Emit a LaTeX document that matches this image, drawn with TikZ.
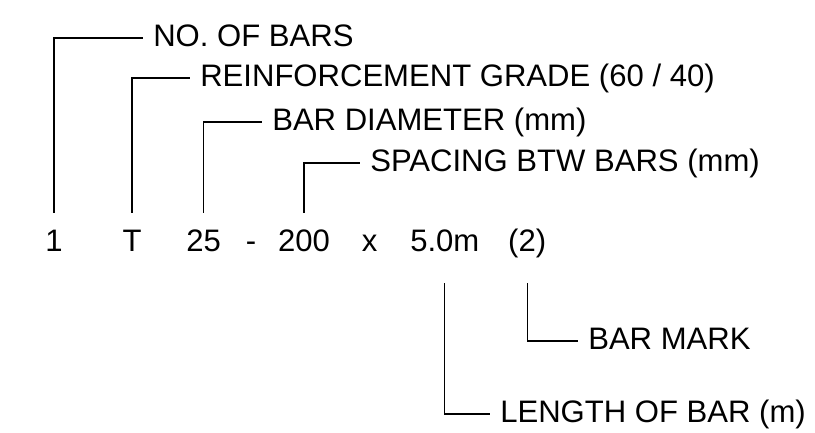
\documentclass[tikz,border=0pt]{standalone}
\usepackage{fontspec}
\setmainfont{Liberation Sans}
\tikzset{
  bm token/.style={
    anchor=base,
    inner sep=0pt,
    text height=0.55cm,
    text depth=0.15cm,
    font=\fontsize{22.1}{26}\selectfont
  },
  bm label/.style={
    anchor=west,
    inner xsep=0.25cm,
    inner ysep=0pt,
    text height=0.55cm,
    text depth=0.13cm,
    font=\fontsize{22.1}{26}\selectfont
  },
  bm lead up/.style={line width=0.8pt,shorten <=0.425cm},
  bm lead down/.style={line width=0.8pt,shorten <=0.625cm}
}

\begin{document}
\begin{tikzpicture}[x=1cm,y=1cm]
  \useasboundingbox (0,0) rectangle (20.375,10.825);

  % the bar schedule code
  \node[bm token] (count) at (1.35,4.525) {1};
  \node[bm token] (grade) at (3.3,4.525) {T};
  \node[bm token] (dia) at (5.09,4.525) {25};
  \node[bm token] (dash) at (6.275,4.525) {-};
  \node[bm token] (spacing) at (7.6,4.525) {200};
  \node[bm token] (times) at (9.24,4.525) {x};
  \node[bm token] (length) at (11.12,4.525) {5.0m};
  \node[bm token] (mark) at (13.18,4.525) {(2)};

  % what each part means
  \node[bm label] (count-label) at (3.575,9.875) {NO. OF BARS};
  \node[bm label] (grade-label) at (4.75,8.875) {REINFORCEMENT GRADE (60 / 40)};
  \node[bm label] (dia-label) at (6.55,7.775) {BAR DIAMETER (mm)};
  \node[bm label] (spacing-label) at (9.0,6.75) {SPACING BTW BARS (mm)};
  \node[bm label] (mark-label) at (14.45,2.3) {BAR MARK};
  \node[bm label] (length-label) at (12.25,0.475) {LENGTH OF BAR (m)};

  \draw[bm lead up] (count.north) |- (count-label.west);
  \draw[bm lead up] (grade.north) |- (grade-label.west);
  \draw[bm lead up] (dia.north) |- (dia-label.west);
  \draw[bm lead up] (spacing.north) |- (spacing-label.west);
  \draw[bm lead down] (mark.south) |- (mark-label.west);
  \draw[bm lead down] (length.south) |- (length-label.west);
\end{tikzpicture}
\end{document}
